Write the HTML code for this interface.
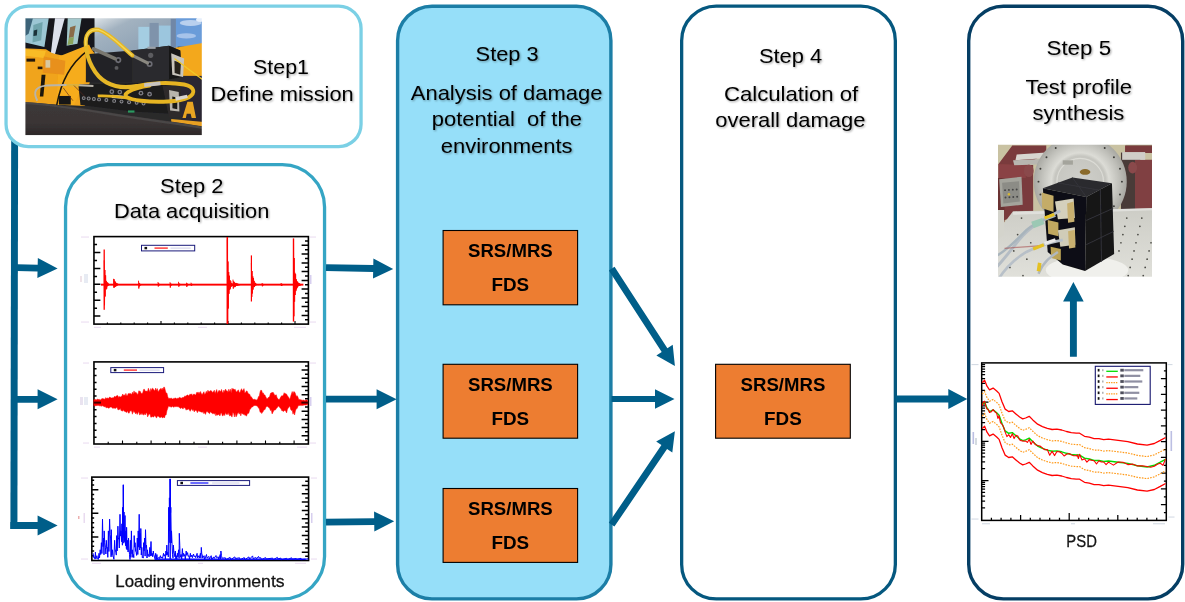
<!DOCTYPE html><html><head><meta charset="utf-8"><title>Mission synthesis process</title>
<style>html,body{margin:0;padding:0;background:#fff;}body{width:1185px;height:602px;overflow:hidden;}svg{display:block;}
text{font-family:"Liberation Sans",sans-serif;fill:#000;}
.t{filter:url(#ts);} .c{fill:#141414;stroke:#141414;stroke-width:0.28px;filter:url(#np);} .b{filter:url(#np);}
</style></head><body>
<svg width="1185" height="602" viewBox="0 0 1185 602">
<defs><filter id="ts" x="-5%" y="-20%" width="110%" height="150%"><feGaussianBlur in="SourceAlpha" stdDeviation="0.9" result="b"/><feOffset in="b" dx="0.8" dy="0.9" result="o"/><feComponentTransfer in="o" result="s"><feFuncA type="linear" slope="0.38"/></feComponentTransfer><feMerge><feMergeNode in="s"/><feMergeNode in="SourceGraphic"/></feMerge></filter><filter id="np" x="-5%" y="-20%" width="110%" height="150%"><feOffset dx="0" dy="0"/></filter></defs>
<rect width="1185" height="602" fill="#fff"/>
<polygon points="11.2,130 18.1,130 17.4,529 10.4,529" fill="#005e89"/>
<rect x="6.05" y="6.05" width="355.00" height="140.50" rx="22.35" ry="22.35" fill="#ffffff" stroke="#7bd0e5" stroke-width="3.3"/>
<rect x="65.55" y="164.65" width="259.00" height="434.30" rx="42.35" ry="42.35" fill="#ffffff" stroke="#35a5c4" stroke-width="3.3"/>
<rect x="397.60" y="6.20" width="213.30" height="592.70" rx="34.40" ry="34.40" fill="#96dff9" stroke="#1c7ea6" stroke-width="3.4"/>
<rect x="681.65" y="6.15" width="213.70" height="592.80" rx="34.55" ry="34.55" fill="#ffffff" stroke="#05587f" stroke-width="3.3"/>
<rect x="968.70" y="6.20" width="214.00" height="592.70" rx="34.70" ry="34.70" fill="#ffffff" stroke="#053e64" stroke-width="3.4"/>
<polygon fill="#005e89" points="16.92,271.00 37.52,271.51 37.36,278.10 57.60,268.60 37.85,258.11 37.69,264.71 17.08,264.20"/>
<polygon fill="#005e89" points="17.00,402.70 37.60,402.70 37.60,409.30 57.60,399.30 37.60,389.30 37.60,395.90 17.00,395.90"/>
<polygon fill="#005e89" points="10.40,528.90 37.60,528.90 37.60,535.50 57.60,525.50 37.60,515.50 37.60,522.10 10.40,522.10"/>
<polygon fill="#005e89" points="325.93,271.00 373.14,271.91 373.01,278.51 393.20,268.90 373.40,258.52 373.27,265.11 326.07,264.20"/>
<polygon fill="#005e89" points="326.00,402.60 376.60,402.60 376.60,409.20 396.60,399.20 376.60,389.20 376.60,395.80 326.00,395.80"/>
<polygon fill="#005e89" points="326.04,525.60 374.25,524.96 374.33,531.56 394.20,521.30 374.07,511.56 374.16,518.16 325.96,518.80"/>
<polygon fill="#005e89" points="608.85,270.55 661.70,351.92 656.37,355.38 674.90,366.00 672.73,344.76 667.40,348.21 614.55,266.85"/>
<polygon fill="#005e89" points="611.50,402.10 655.00,402.10 655.00,408.75 674.50,399.00 655.00,389.25 655.00,395.90 611.50,395.90"/>
<polygon fill="#005e89" points="614.41,526.61 667.06,448.94 672.31,452.50 674.90,431.30 656.17,441.56 661.43,445.12 608.79,522.79"/>
<polygon fill="#005e89" points="896.00,402.40 948.30,402.40 948.30,409.10 967.30,399.00 948.30,388.90 948.30,395.60 896.00,395.60"/>
<polygon fill="#005e89" points="1076.85,356.80 1076.85,301.60 1083.70,301.60 1073.40,282.00 1063.10,301.60 1069.95,301.60 1069.95,356.80"/>
<rect x="443.1" y="230.5" width="134.5" height="74.30000000000001" fill="#ed7d31" stroke="#000" stroke-width="1.1"/><text class="b" x="468.04" y="257.00" font-size="18.3" font-weight="bold" textLength="84.68" lengthAdjust="spacingAndGlyphs">SRS/MRS</text><text class="b" x="491.44" y="291.20" font-size="18.3" font-weight="bold" textLength="37.68" lengthAdjust="spacingAndGlyphs">FDS</text>
<rect x="443.1" y="364.3" width="134.5" height="73.89999999999998" fill="#ed7d31" stroke="#000" stroke-width="1.1"/><text class="b" x="468.04" y="390.80" font-size="18.3" font-weight="bold" textLength="84.68" lengthAdjust="spacingAndGlyphs">SRS/MRS</text><text class="b" x="491.44" y="425.00" font-size="18.3" font-weight="bold" textLength="37.68" lengthAdjust="spacingAndGlyphs">FDS</text>
<rect x="443.1" y="488.5" width="134.5" height="73.89999999999998" fill="#ed7d31" stroke="#000" stroke-width="1.1"/><text class="b" x="468.04" y="515.00" font-size="18.3" font-weight="bold" textLength="84.68" lengthAdjust="spacingAndGlyphs">SRS/MRS</text><text class="b" x="491.44" y="549.20" font-size="18.3" font-weight="bold" textLength="37.68" lengthAdjust="spacingAndGlyphs">FDS</text>
<rect x="715.6" y="364.3" width="134.69999999999993" height="73.89999999999998" fill="#ed7d31" stroke="#000" stroke-width="1.1"/><text class="b" x="740.64" y="390.80" font-size="18.3" font-weight="bold" textLength="84.68" lengthAdjust="spacingAndGlyphs">SRS/MRS</text><text class="b" x="764.04" y="425.00" font-size="18.3" font-weight="bold" textLength="37.68" lengthAdjust="spacingAndGlyphs">FDS</text>
<defs><clipPath id="cp1"><rect x="25.4" y="18.2" width="176.4" height="117.1"/></clipPath><filter id="bl1" x="-5%" y="-5%" width="110%" height="110%"><feGaussianBlur stdDeviation="2.4"/></filter><linearGradient id="gl1" x1="0" y1="0" x2="1" y2="1"><stop offset="0" stop-color="#eef1f2"/><stop offset="0.3" stop-color="#a2b2c0"/><stop offset="1" stop-color="#8096ac"/></linearGradient><linearGradient id="gb1" x1="0" y1="0" x2="0" y2="1"><stop offset="0" stop-color="#3c3838"/><stop offset="0.5" stop-color="#3a3535"/><stop offset="1" stop-color="#241f20"/></linearGradient></defs>
<g clip-path="url(#cp1)"><g transform="translate(20,10) scale(0.21598)"><g filter="url(#bl1)">
<rect x="0" y="0" width="880" height="620" fill="#2a2a2c"/>
<rect x="330" y="20" width="400" height="200" fill="url(#gl1)"/>
<rect x="548" y="78" width="52" height="115" fill="#a4cde2"/>
<rect x="642" y="72" width="56" height="110" fill="#9cc6de"/>
<rect x="600" y="60" width="42" height="140" fill="#7f93ab"/>
<rect x="698" y="40" width="24" height="140" fill="#6f87a7"/>
<rect x="722" y="20" width="140" height="150" fill="#6b9cd9"/>
<ellipse cx="790" cy="60" rx="50" ry="14" fill="#b9d0ee"/><ellipse cx="770" cy="120" rx="45" ry="12" fill="#a6c3ea"/><ellipse cx="835" cy="45" rx="20" ry="10" fill="#e4eefb"/>
<rect x="0" y="20" width="345" height="190" fill="#14181c"/>
<polygon points="24,38 133,38 113,171 24,151" fill="#9cc6d4"/>
<polygon points="24,38 60,38 40,110 24,120" fill="#3c6478"/>
<polygon points="62,70 105,55 98,140 58,150" fill="#6fa4ac"/>
<polygon points="64,95 80,90 78,118 62,120" fill="#1c3038"/>
<polygon points="162,38 207,38 162,205 143,200" fill="#dde1ec"/>
<polygon points="221,38 285,38 266,156 216,166" fill="#a4c8cc"/>
<polygon points="232,80 258,72 248,125 226,130" fill="#8a6c48"/>
<polygon points="226,130 250,125 245,158 220,162" fill="#8aa45c"/>
<polygon points="0,176 120,182 150,200 200,212 260,188 320,165 345,200 330,300 300,445 0,430" fill="#f0a41a"/>
<polygon points="25,182 120,190 110,222 25,212" fill="#f8bc28"/>
<polygon points="180,215 320,160 335,200 300,330 250,440 170,440" fill="#f6ac1c"/>
<polygon points="110,215 210,235 205,300 105,290" fill="#e8901a"/>
<rect x="30" y="225" width="40" height="14" fill="#20180c"/><rect x="82" y="262" width="22" height="12" fill="#20180c"/>
<rect x="118" y="232" width="22" height="35" fill="#d8c8a0"/>
<polygon points="100,300 118,300 108,400 92,400" fill="#1a1408"/>
<path d="M170,440 C190,330 230,250 310,190" stroke="#1a1408" stroke-width="7" fill="none"/>
<polygon points="700,178 862,150 862,330 745,310 735,200" fill="#f3a81d"/>
<rect x="745" y="305" width="120" height="225" fill="#2a2630"/>
<polygon points="775,425 800,425 815,500 795,500 790,480 772,480 768,500 752,500" fill="#e8a422"/>
<polygon points="700,505 862,520 862,545 700,525" fill="#e8a020"/>
<polygon points="305,205 520,188 690,165 742,188 748,300 690,322 520,335 305,335" fill="#242426"/>
<polygon points="520,188 690,165 690,322 520,335" fill="#2c2c2e"/>
<polygon points="690,165 742,188 748,310 690,322" fill="#181818"/>
<polygon points="700,200 760,225 755,310 705,300" fill="#c8c4bc"/>
<polygon points="715,235 745,245 742,300 716,292" fill="#26221e"/>
<polygon points="270,345 700,335 705,480 520,470 280,440" fill="#1c1c1e"/>
<polygon points="660,350 740,355 745,500 690,495" fill="#2e2c2c"/>
<polygon points="690,370 735,380 738,470 695,465" fill="#b8b4ac"/>
<polygon points="705,400 728,405 728,460 706,455" fill="#1c1a18"/>
<circle cx="295" cy="408" r="9" fill="#8c8c90"/><circle cx="295" cy="408" r="4.5" fill="#2a2a2c"/>
<circle cx="318" cy="410" r="9" fill="#8c8c90"/><circle cx="318" cy="410" r="4.5" fill="#2a2a2c"/>
<circle cx="342" cy="412" r="9" fill="#8c8c90"/><circle cx="342" cy="412" r="4.5" fill="#2a2a2c"/>
<circle cx="366" cy="414" r="9" fill="#8c8c90"/><circle cx="366" cy="414" r="4.5" fill="#2a2a2c"/>
<circle cx="400" cy="417" r="9" fill="#8c8c90"/><circle cx="400" cy="417" r="4.5" fill="#2a2a2c"/>
<circle cx="436" cy="421" r="9" fill="#8c8c90"/><circle cx="436" cy="421" r="4.5" fill="#2a2a2c"/>
<circle cx="470" cy="424" r="9" fill="#8c8c90"/><circle cx="470" cy="424" r="4.5" fill="#2a2a2c"/>
<circle cx="505" cy="427" r="9" fill="#8c8c90"/><circle cx="505" cy="427" r="4.5" fill="#2a2a2c"/>
<circle cx="540" cy="430" r="9" fill="#8c8c90"/><circle cx="540" cy="430" r="4.5" fill="#2a2a2c"/>
<circle cx="572" cy="433" r="9" fill="#8c8c90"/><circle cx="572" cy="433" r="4.5" fill="#2a2a2c"/>
<circle cx="425" cy="378" r="11" fill="#7c7c84"/><circle cx="425" cy="378" r="5" fill="#222"/>
<circle cx="462" cy="380" r="11" fill="#7c7c84"/><circle cx="462" cy="380" r="5" fill="#222"/>
<circle cx="560" cy="385" r="11" fill="#7c7c84"/><circle cx="560" cy="385" r="5" fill="#222"/>
<circle cx="600" cy="390" r="11" fill="#7c7c84"/><circle cx="600" cy="390" r="5" fill="#222"/>
<circle cx="455" cy="232" r="14" fill="#6c6c74"/><circle cx="455" cy="232" r="6" fill="#1a1a1a"/>
<circle cx="600" cy="250" r="14" fill="#6c6c74"/><circle cx="600" cy="250" r="6" fill="#1a1a1a"/>
<circle cx="447" cy="268" r="9" fill="#5c5c60"/><circle cx="605" cy="210" r="12" fill="#5c5c60"/>
<rect x="590" y="170" width="38" height="10" fill="#9aa0a8"/>
<path d="M0,425 C150,430 300,455 450,480 C600,505 750,520 880,545 L880,620 L0,620 Z" fill="url(#gb1)"/>
<path d="M0,430 C150,436 300,462 450,487 C600,512 750,528 880,552" stroke="#4a4646" stroke-width="10" fill="none"/>
<rect x="0" y="580" width="880" height="40" fill="#ffffff"/>
<rect x="180" y="398" width="55" height="40" fill="#121212"/>
<rect x="500" y="465" width="30" height="10" fill="#2a9a60"/>
<path d="M340,180 L440,225" stroke="#7a7870" stroke-width="16" stroke-linecap="round" fill="none"/>
<path d="M520,210 L590,245" stroke="#8a8880" stroke-width="15" stroke-linecap="round" fill="none"/>
<path d="M520,210 C470,170 420,110 365,92 C320,85 300,115 305,165 C310,230 345,305 400,335 C440,357 490,362 540,352" stroke="#e6b726" stroke-width="19" fill="none" stroke-linecap="round"/>
<path d="M520,210 C470,170 420,110 365,92 C320,85 300,115 305,165" stroke="#f4d858" stroke-width="7" fill="none"/>
<path d="M540,352 C600,338 690,332 760,345 C810,356 815,385 780,405 C740,425 640,430 560,420 C500,412 470,400 500,380 C520,368 560,355 600,350" stroke="#e6b422" stroke-width="18" fill="none" stroke-linecap="round"/>
<path d="M575,348 L650,340" stroke="#c8c4c0" stroke-width="17" fill="none"/>
<path d="M425,400 L480,404" stroke="#d0ccc8" stroke-width="15" fill="none"/>
<path d="M720,412 L775,400" stroke="#d8d4d0" stroke-width="16" fill="none"/>
<path d="M360,398 C400,396 450,400 500,408" stroke="#e6b422" stroke-width="13" fill="none"/>
<path d="M80,420 C60,380 70,355 120,350 C200,345 280,348 340,352" stroke="#b8b4aa" stroke-width="9" fill="none"/>
<path d="M215,348 L275,348" stroke="#e0b030" stroke-width="9" fill="none"/>
<path d="M200,360 L245,420 M250,350 L300,400" stroke="#5a2a1a" stroke-width="3" fill="none"/>
<path d="M715,225 C760,260 800,290 850,325" stroke="#f0c828" stroke-width="6" fill="none"/>
</g></g></g>
<rect x="93.95" y="236.6" width="214.45" height="87.50000000000003" fill="#fff" stroke="#000" stroke-width="1.6"/>
<path d="M93.95,244.6h3.1M93.95,252.5h6.4M93.95,260.5h3.1M93.95,268.4h6.4M93.95,276.4h3.1M93.95,284.3h6.4M93.95,292.3h3.1M93.95,300.2h6.4M93.95,308.2h3.1M93.95,316.1h6.4M308.4,241.0h-3.4M308.4,245.3h-6.8M308.4,249.7h-3.4M308.4,254.1h-6.8M308.4,258.5h-3.4M308.4,262.9h-6.8M308.4,267.2h-3.4M308.4,271.6h-6.8M308.4,276.0h-3.4M308.4,280.4h-6.8M308.4,284.7h-3.4M308.4,289.1h-6.8M308.4,293.5h-3.4M308.4,297.9h-6.8M308.4,302.2h-3.4M308.4,306.6h-6.8M308.4,311.0h-3.4M308.4,315.4h-6.8M308.4,319.7h-3.4" stroke="#000" stroke-width="1.5" fill="none"/>
<path d="M107.4,324.1v-1.6M120.8,324.1v-1.6M134.2,324.1v-1.6M147.6,324.1v-1.6M161.0,324.1v-3.0M174.4,324.1v-1.6M187.8,324.1v-1.6M201.2,324.1v-1.6M214.6,324.1v-1.6M228.0,324.1v-3.0M241.4,324.1v-1.6M254.8,324.1v-1.6M268.2,324.1v-1.6M281.6,324.1v-1.6M295.0,324.1v-3.0" stroke="#000" stroke-width="1.1" fill="none"/>
<rect x="100.95" y="283.70000000000005" width="202.45" height="1.9" fill="#ff0000"/>
<polyline fill="none" stroke="#ff0000" stroke-width="0.9"  points="104.2,260.3 104.5,305.3 104.9,270.0 105.2,296.5 105.6,275.3 106.0,289.5 106.3,280.9 106.7,288.7 107.0,282.2 107.4,286.3 107.7,282.7 108.1,285.7 108.4,283.6 108.8,285.2 109.1,284.1 109.5,284.9 109.8,284.3 110.2,284.8 110.5,284.5 110.9,284.7 111.2,284.5 111.6,284.6 111.9,284.5 112.3,284.6"/>
<polyline fill="none" stroke="#ff0000" stroke-width="0.9"  points="113.5,278.8 113.8,287.7 114.2,279.3 114.5,287.4 114.9,281.1 115.2,287.0 115.6,282.1 116.0,286.3 116.3,283.1 116.7,285.7 117.0,283.5 117.4,285.4 117.7,283.7 118.1,285.0 118.4,284.1 118.8,284.9"/>
<polyline fill="none" stroke="#ff0000" stroke-width="0.9"  points="138.5,280.7 138.8,288.5 139.2,282.9 139.5,286.4 139.9,283.8 140.2,285.5 140.6,284.2 140.9,285.1 141.3,284.4 141.6,284.9"/>
<polyline fill="none" stroke="#ff0000" stroke-width="0.9"  points="158.0,282.0 158.3,286.5 158.7,283.2 159.0,285.6 159.4,284.0 159.7,284.9"/>
<polyline fill="none" stroke="#ff0000" stroke-width="0.9"  points="170.0,282.2 170.3,287.6 170.7,283.4 171.0,285.8 171.4,284.1 171.7,285.1"/>
<polyline fill="none" stroke="#ff0000" stroke-width="0.9"  points="178.5,281.8 178.8,286.7 179.2,283.5 179.5,285.4 179.9,283.9 180.2,285.2"/>
<polyline fill="none" stroke="#ff0000" stroke-width="0.9"  points="186.5,282.7 186.8,286.9 187.2,283.5 187.5,285.4 187.9,284.1 188.2,285.2"/>
<polyline fill="none" stroke="#ff0000" stroke-width="0.9"  points="191.0,282.7 191.3,285.8 191.7,283.8 192.0,285.2 192.4,284.2 192.7,285.0"/>
<polyline fill="none" stroke="#ff0000" stroke-width="0.9"  points="227.3,239.4 227.7,323.8 228.0,261.5 228.3,308.5 228.7,272.0 229.0,293.8 229.4,275.7 229.7,290.0 230.1,280.2 230.4,288.7 230.8,281.3 231.1,286.7 231.5,283.1 231.8,286.5 232.2,283.6 232.5,285.8 232.9,283.8 233.2,285.1 233.6,284.2 233.9,285.0 234.3,284.3 234.6,284.8 235.0,284.4 235.3,284.7 235.7,284.5 236.0,284.7 236.4,284.5 236.7,284.7 237.1,284.6 237.4,284.6"/>
<polyline fill="none" stroke="#ff0000" stroke-width="0.9"  points="233.0,279.6 233.3,288.6 233.7,281.4 234.0,287.0 234.4,282.2 234.7,287.2 235.1,283.1 235.4,286.7 235.8,282.9 236.1,285.8 236.5,283.3 236.8,285.8 237.2,283.5 237.5,285.5 237.9,283.7 238.2,285.5 238.6,284.1 238.9,285.1 239.3,284.1 239.6,285.2 240.0,284.3 240.3,285.0 240.7,284.3 241.0,284.9"/>
<polyline fill="none" stroke="#ff0000" stroke-width="0.9"  points="251.4,263.0 251.8,296.9 252.1,271.0 252.4,293.5 252.8,276.4 253.1,289.6 253.5,278.1 253.8,287.2 254.2,280.9 254.5,287.0 254.9,282.6 255.2,285.7 255.6,283.0 255.9,285.3 256.3,283.9 256.6,285.1 257.0,284.0 257.3,284.9 257.7,284.3 258.0,284.8 258.4,284.3 258.7,284.7 259.1,284.4 259.4,284.7"/>
<polyline fill="none" stroke="#ff0000" stroke-width="0.9"  points="262.0,283.1 262.4,286.3 262.7,283.7 263.1,285.4 263.4,284.3 263.8,284.9"/>
<polyline fill="none" stroke="#ff0000" stroke-width="0.9"  points="281.0,283.0 281.4,286.0 281.7,283.7 282.1,285.5 282.4,284.3 282.8,285.0"/>
<polyline fill="none" stroke="#ff0000" stroke-width="0.9"  points="293.5,242.1 293.9,316.3 294.2,258.0 294.6,301.7 294.9,272.8 295.2,295.0 295.6,274.2 295.9,291.1 296.3,279.3 296.6,289.0 297.0,281.2 297.3,287.3 297.7,281.9 298.0,286.1 298.4,283.5 298.7,286.0 299.1,283.6 299.4,285.5 299.8,284.1 300.1,285.1 300.5,284.2 300.8,284.8 301.2,284.4 301.5,284.8"/>
<polyline fill="none" stroke="#ff0000" stroke-width="0.9"  points="296.0,279.4 296.4,289.4 296.7,281.6 297.1,287.7 297.4,282.5 297.8,286.5 298.1,282.8 298.4,286.1 298.8,283.2 299.1,285.5 299.5,283.6 299.8,285.5 300.2,283.9 300.5,285.3 300.9,284.1 301.2,285.0"/>
<rect x="103.55" y="249.5" width="1.3" height="60.30000000000001" fill="#ff0000"/>
<rect x="226.55" y="237" width="1.5" height="87" fill="#ff0000"/>
<rect x="250.8" y="255.4" width="1.2" height="46.099999999999994" fill="#ff0000"/>
<rect x="292.8" y="238.4" width="1.4" height="83.20000000000002" fill="#ff0000"/>
<rect x="141.5" y="245.3" width="53.19999999999999" height="5.599999999999994" fill="#fff" stroke="#1a1a7a" stroke-width="1"/><rect x="144.5" y="246.90000000000003" width="2.6" height="2.4" fill="#111"/><rect x="154.5" y="247.40000000000003" width="13.3" height="1.4" fill="#ff3030"/><rect x="170.5" y="247.60000000000002" width="20.2" height="1" fill="#b9b9dd" opacity="0.7"/>
<rect x="81" y="236.5" width="8" height="1.1" fill="#c9a6d9" opacity="0.38"/>
<rect x="81" y="321.5" width="8" height="1.1" fill="#c9a6d9" opacity="0.38"/>
<rect x="94" y="326.8" width="7" height="1.1" fill="#c9a6d9" opacity="0.38"/>
<rect x="198" y="326.8" width="9" height="1.1" fill="#c9a6d9" opacity="0.38"/>
<rect x="294" y="326.8" width="12" height="1.1" fill="#c9a6d9" opacity="0.38"/>
<rect x="310" y="236.5" width="6" height="1.1" fill="#c9a6d9" opacity="0.38"/>
<rect x="310" y="321.5" width="6" height="1.1" fill="#c9a6d9" opacity="0.38"/>
<rect x="80" y="276" width="2" height="6" fill="#d7b9c9" opacity=".4"/><rect x="84" y="274" width="4" height="9" fill="#b9c6dd" opacity=".35"/><rect x="310" y="275" width="1.5" height="9" fill="#9a86d8" opacity=".4"/>
<rect x="93.95" y="361.9" width="214.45" height="82.10000000000002" fill="#fff" stroke="#000" stroke-width="1.6"/>
<path d="M93.95,368.7h2.6M93.95,375.6h2.6M93.95,382.4h2.6M93.95,389.3h2.6M93.95,396.1h2.6M93.95,402.9h2.6M93.95,409.8h2.6M93.95,416.6h2.6M93.95,423.5h2.6M93.95,430.3h2.6M93.95,437.2h2.6M308.4,366.0h-3.4M308.4,370.1h-6.8M308.4,374.2h-3.4M308.4,378.3h-6.8M308.4,382.4h-3.4M308.4,386.5h-6.8M308.4,390.6h-3.4M308.4,394.7h-6.8M308.4,398.8h-3.4M308.4,402.9h-6.8M308.4,407.1h-3.4M308.4,411.2h-6.8M308.4,415.3h-3.4M308.4,419.4h-6.8M308.4,423.5h-3.4M308.4,427.6h-6.8M308.4,431.7h-3.4M308.4,435.8h-6.8M308.4,439.9h-3.4" stroke="#000" stroke-width="1.5" fill="none"/>
<path d="M108.2,444.0v-2.2M122.5,444.0v-3.6M136.8,444.0v-2.2M151.1,444.0v-3.6M165.4,444.0v-2.2M179.7,444.0v-3.6M194.0,444.0v-2.2M208.3,444.0v-3.6M222.6,444.0v-2.2M236.9,444.0v-3.6M251.2,444.0v-2.2M265.5,444.0v-3.6M279.8,444.0v-2.2M294.1,444.0v-3.6" stroke="#000" stroke-width="1.1" fill="none"/>
<polygon fill="#ff0000" stroke="#ff0000" stroke-width="0.5" stroke-linejoin="round" points="93.8,399.7 94.6,399.5 95.4,399.5 96.2,400.1 97.0,399.2 97.8,399.2 98.6,399.5 99.4,399.4 100.2,399.9 101.0,399.5 101.8,398.8 102.6,398.6 103.4,398.7 104.2,399.3 105.0,398.9 105.8,397.6 106.6,398.5 107.4,398.0 108.3,398.4 109.1,397.5 109.9,397.0 110.7,397.8 111.5,398.1 112.3,397.7 113.1,398.1 113.9,397.3 114.7,396.2 115.5,397.1 116.3,396.1 117.1,395.4 117.9,395.8 118.7,397.4 119.5,396.4 120.3,397.1 121.1,396.5 121.9,396.3 122.7,394.0 123.5,395.5 124.3,394.7 125.1,395.8 125.9,393.4 126.7,395.7 127.5,395.4 128.3,393.4 129.1,394.1 129.9,393.2 130.7,393.8 131.6,394.6 132.4,392.2 133.2,394.2 134.0,390.9 134.8,393.0 135.6,392.2 136.4,392.7 137.2,394.2 138.0,394.2 138.8,390.8 139.6,391.2 140.4,391.5 141.2,393.6 142.0,393.4 142.8,392.7 143.6,389.4 144.4,389.3 145.2,391.3 146.0,391.1 146.8,391.3 147.6,391.3 148.4,388.2 149.2,390.3 150.0,392.2 150.8,388.5 151.6,390.5 152.4,388.2 153.2,388.7 154.0,390.3 154.8,390.7 155.7,388.1 156.5,390.6 157.3,388.6 158.1,392.0 158.9,390.7 159.7,389.6 160.5,388.5 161.3,390.1 162.1,388.0 162.9,390.1 163.7,387.2 164.5,387.2 165.3,390.3 166.1,393.2 166.9,393.0 167.7,396.6 168.5,398.4 169.3,398.3 170.1,398.4 170.9,398.3 171.7,398.3 172.5,399.1 173.3,398.4 174.1,398.7 174.9,398.0 175.7,398.1 176.5,398.8 177.3,398.3 178.1,398.4 179.0,397.8 179.8,397.3 180.6,397.9 181.4,398.2 182.2,397.5 183.0,397.7 183.8,396.9 184.6,396.2 185.4,396.2 186.2,395.9 187.0,395.1 187.8,394.9 188.6,395.9 189.4,395.1 190.2,393.9 191.0,394.8 191.8,393.8 192.6,396.0 193.4,394.3 194.2,394.1 195.0,394.8 195.8,395.1 196.6,392.5 197.4,392.3 198.2,393.4 199.0,391.9 199.8,393.8 200.6,391.5 201.4,394.0 202.2,394.5 203.1,393.1 203.9,391.7 204.7,394.6 205.5,393.5 206.3,391.3 207.1,393.3 207.9,390.2 208.7,391.6 209.5,391.4 210.3,390.8 211.1,390.6 211.9,391.5 212.7,392.4 213.5,391.5 214.3,390.2 215.1,393.4 215.9,391.5 216.7,389.5 217.5,393.5 218.3,391.5 219.1,390.2 219.9,391.2 220.7,391.6 221.5,389.4 222.3,392.0 223.1,393.0 223.9,390.1 224.7,392.0 225.5,389.0 226.4,391.0 227.2,390.8 228.0,392.4 228.8,389.2 229.6,392.0 230.4,389.2 231.2,392.9 232.0,388.2 232.8,389.5 233.6,388.8 234.4,389.7 235.2,389.3 236.0,391.4 236.8,392.1 237.6,390.7 238.4,389.8 239.2,392.4 240.0,392.6 240.8,390.2 241.6,388.7 242.4,391.0 243.2,390.2 244.0,388.6 244.8,392.9 245.6,392.5 246.4,390.9 247.2,391.2 248.0,393.2 248.8,393.9 249.7,394.2 250.5,396.4 251.3,396.7 252.1,398.1 252.9,399.3 253.7,399.5 254.5,399.3 255.3,399.4 256.1,400.2 256.9,399.8 257.7,399.0 258.5,396.6 259.3,396.2 260.1,391.8 260.9,390.1 261.7,390.5 262.5,393.3 263.3,392.9 264.1,394.9 264.9,394.9 265.7,396.7 266.5,398.3 267.3,399.0 268.1,397.5 268.9,397.6 269.7,396.2 270.5,393.3 271.3,392.7 272.1,392.9 272.9,392.0 273.8,393.4 274.6,395.2 275.4,395.3 276.2,394.7 277.0,397.4 277.8,398.6 278.6,399.6 279.4,399.5 280.2,398.1 281.0,396.4 281.8,395.8 282.6,396.0 283.4,394.9 284.2,392.7 285.0,394.0 285.8,393.6 286.6,394.2 287.4,395.7 288.2,396.8 289.0,398.0 289.8,399.6 290.6,396.5 291.4,394.1 292.2,391.5 293.0,394.0 293.8,391.5 294.6,392.0 295.4,393.6 296.2,396.4 297.1,395.6 297.9,397.1 298.7,399.5 299.5,399.4 300.3,399.7 301.1,399.8 301.9,400.2 302.7,400.2 303.5,400.1 304.3,400.4 305.1,400.4 305.9,399.9 306.7,400.0 307.5,400.6 307.5,405.0 306.7,404.8 305.9,405.1 305.1,405.1 304.3,405.0 303.5,405.2 302.7,405.3 301.9,405.8 301.1,405.1 300.3,405.6 299.5,405.4 298.7,405.5 297.9,406.6 297.1,408.6 296.2,408.8 295.4,411.0 294.6,415.0 293.8,412.0 293.0,414.2 292.2,410.1 291.4,410.4 290.6,409.2 289.8,405.7 289.0,407.2 288.2,408.0 287.4,409.4 286.6,412.9 285.8,411.0 285.0,410.5 284.2,410.5 283.4,411.6 282.6,410.8 281.8,410.7 281.0,408.8 280.2,408.1 279.4,406.9 278.6,405.9 277.8,406.8 277.0,407.9 276.2,408.6 275.4,410.0 274.6,410.0 273.8,410.4 272.9,412.4 272.1,413.9 271.3,409.8 270.5,410.6 269.7,408.5 268.9,407.5 268.1,407.1 267.3,406.2 266.5,406.5 265.7,407.8 264.9,409.8 264.1,409.5 263.3,411.3 262.5,412.3 261.7,413.5 260.9,412.1 260.1,412.3 259.3,408.7 258.5,408.1 257.7,406.3 256.9,406.2 256.1,405.4 255.3,405.5 254.5,405.5 253.7,405.7 252.9,406.7 252.1,407.0 251.3,407.4 250.5,409.1 249.7,409.8 248.8,413.2 248.0,413.2 247.2,414.3 246.4,416.2 245.6,415.0 244.8,415.3 244.0,413.8 243.2,414.5 242.4,413.7 241.6,412.8 240.8,415.9 240.0,412.5 239.2,414.2 238.4,412.6 237.6,413.2 236.8,415.5 236.0,416.9 235.2,413.0 234.4,417.0 233.6,413.3 232.8,412.5 232.0,417.1 231.2,415.7 230.4,415.3 229.6,416.0 228.8,412.4 228.0,414.8 227.2,413.6 226.4,414.6 225.5,412.6 224.7,415.6 223.9,413.9 223.1,415.8 222.3,415.7 221.5,412.7 220.7,413.6 219.9,416.0 219.1,414.6 218.3,414.4 217.5,415.3 216.7,414.2 215.9,415.8 215.1,412.8 214.3,414.3 213.5,413.2 212.7,413.8 211.9,412.9 211.1,412.6 210.3,411.7 209.5,413.7 208.7,413.0 207.9,412.1 207.1,411.5 206.3,411.7 205.5,414.4 204.7,412.6 203.9,413.7 203.1,411.5 202.2,412.6 201.4,411.9 200.6,411.9 199.8,411.1 199.0,411.6 198.2,410.6 197.4,412.7 196.6,410.7 195.8,410.3 195.0,410.6 194.2,411.9 193.4,409.4 192.6,410.6 191.8,408.8 191.0,409.7 190.2,411.3 189.4,410.0 188.6,408.7 187.8,409.8 187.0,409.1 186.2,410.2 185.4,408.5 184.6,407.8 183.8,407.5 183.0,409.1 182.2,408.0 181.4,407.8 180.6,408.6 179.8,407.8 179.0,407.3 178.1,406.5 177.3,406.7 176.5,406.6 175.7,406.7 174.9,406.3 174.1,407.2 173.3,407.1 172.5,406.3 171.7,407.1 170.9,407.1 170.1,406.5 169.3,406.6 168.5,406.0 167.7,408.6 166.9,410.8 166.1,415.0 165.3,414.9 164.5,417.9 163.7,417.0 162.9,417.8 162.1,417.7 161.3,416.7 160.5,417.5 159.7,417.6 158.9,416.7 158.1,416.0 157.3,416.2 156.5,418.1 155.7,416.7 154.8,415.6 154.0,416.7 153.2,417.0 152.4,416.6 151.6,417.0 150.8,417.2 150.0,413.9 149.2,414.1 148.4,415.3 147.6,416.9 146.8,412.7 146.0,413.2 145.2,415.0 144.4,413.6 143.6,415.2 142.8,413.2 142.0,414.8 141.2,413.0 140.4,414.4 139.6,414.9 138.8,411.4 138.0,412.9 137.2,414.5 136.4,412.4 135.6,413.9 134.8,411.5 134.0,412.6 133.2,410.6 132.4,414.2 131.6,410.8 130.7,410.8 129.9,411.2 129.1,413.2 128.3,412.9 127.5,410.7 126.7,412.5 125.9,412.0 125.1,411.4 124.3,411.2 123.5,409.8 122.7,411.3 121.9,410.5 121.1,410.8 120.3,408.2 119.5,409.4 118.7,409.7 117.9,409.7 117.1,407.6 116.3,407.6 115.5,408.4 114.7,408.3 113.9,407.8 113.1,408.4 112.3,408.1 111.5,407.0 110.7,407.0 109.9,407.2 109.1,408.2 108.3,408.0 107.4,407.4 106.6,407.7 105.8,407.4 105.0,406.3 104.2,407.0 103.4,405.9 102.6,405.8 101.8,405.7 101.0,406.4 100.2,405.5 99.4,405.8 98.6,405.4 97.8,405.3 97.0,405.7 96.2,405.5 95.4,405.8 94.6,405.8 93.8,405.6"/>
<rect x="110.8" y="367.6" width="52.8" height="5.0" fill="#fff" stroke="#1a1a7a" stroke-width="1"/><rect x="113.8" y="368.90000000000003" width="2.6" height="2.4" fill="#111"/><rect x="123.8" y="369.40000000000003" width="13.2" height="1.4" fill="#ff3030"/><rect x="139.6" y="369.6" width="20.1" height="1" fill="#b9b9dd" opacity="0.7"/>
<rect x="93.95" y="401.6" width="7" height="2" fill="#400"/>
<rect x="301.4" y="401.6" width="7" height="2" fill="#400"/>
<rect x="83" y="362.5" width="6" height="1.1" fill="#c9a6d9" opacity="0.38"/>
<rect x="83" y="442.5" width="6" height="1.1" fill="#c9a6d9" opacity="0.38"/>
<rect x="94" y="446.6" width="6" height="1.1" fill="#c9a6d9" opacity="0.38"/>
<rect x="198" y="446.6" width="9" height="1.1" fill="#c9a6d9" opacity="0.38"/>
<rect x="297" y="446.6" width="10" height="1.1" fill="#c9a6d9" opacity="0.38"/>
<rect x="310" y="362.5" width="6" height="1.1" fill="#c9a6d9" opacity="0.38"/>
<rect x="310" y="442.5" width="6" height="1.1" fill="#c9a6d9" opacity="0.38"/>
<rect x="80" y="397" width="3" height="8" fill="#c9b9d9" opacity=".4"/><rect x="84" y="397" width="4" height="8" fill="#b9c6dd" opacity=".35"/><rect x="310" y="397" width="1.5" height="9" fill="#9a86d8" opacity=".4"/>
<rect x="91.85" y="477.1" width="216.75000000000003" height="83.39999999999998" fill="#fff" stroke="#000" stroke-width="1.6"/>
<path d="M91.85,480.3h2.3M91.85,485.0h2.3M91.85,489.7h6.5M91.85,494.4h2.3M91.85,499.1h2.3M91.85,503.9h2.3M91.85,508.6h2.3M91.85,513.3h6.5M91.85,518.0h2.3M91.85,522.7h2.3M91.85,527.5h2.3M91.85,532.2h2.3M91.85,536.9h6.5M91.85,541.6h2.3M91.85,546.3h2.3M91.85,551.1h2.3M91.85,555.8h2.3" stroke="#000" stroke-width="1.5" fill="none"/>
<path d="M308.6,481.3h-3.4M308.6,485.4h-6.8M308.6,489.6h-3.4M308.6,493.8h-6.8M308.6,498.0h-3.4M308.6,502.1h-6.8M308.6,506.3h-3.4M308.6,510.5h-6.8M308.6,514.6h-3.4M308.6,518.8h-6.8M308.6,523.0h-3.4M308.6,527.1h-6.8M308.6,531.3h-3.4M308.6,535.5h-6.8M308.6,539.6h-3.4M308.6,543.8h-6.8M308.6,548.0h-3.4M308.6,552.2h-6.8M308.6,556.3h-3.4" stroke="#000" stroke-width="1.5" fill="none"/>
<polyline fill="none" stroke="#0000ff" stroke-width="1.0" stroke-linejoin="miter" points="93.1,553.3 93.6,557.5 94.5,556.9 95.0,559.2 95.4,552.2 95.9,558.9 96.9,555.7 97.4,558.5 97.8,558.1 98.3,559.5 99.0,553.3 99.5,557.9 100.2,549.8 100.7,554.5 101.4,542.7 101.9,553.5 102.5,519.1 103.0,546.6 103.5,538.0 104.0,554.8 104.2,530.9 104.7,542.6 105.4,547.4 105.9,554.0 106.3,540.3 106.8,548.3 107.3,547.4 107.8,557.3 108.4,530.9 108.9,551.5 109.6,519.1 110.1,534.4 110.6,538.0 111.1,556.9 111.3,529.7 111.8,555.3 112.5,549.8 113.0,557.0 113.4,556.9 113.9,559.3 114.6,540.3 115.1,549.0 115.8,552.2 116.3,555.1 116.7,535.6 117.2,550.9 117.9,526.2 118.4,539.2 118.8,538.0 119.3,548.0 120.0,514.3 120.5,536.1 121.0,530.9 121.5,541.7 121.9,523.8 122.4,545.2 122.6,507.3 123.1,537.6 123.3,484.8 123.8,543.2 124.0,512.0 124.5,541.6 125.0,515.5 125.5,545.7 125.9,530.9 126.4,548.7 126.6,527.3 127.1,549.9 127.6,540.3 128.1,552.0 128.5,538.0 129.0,549.0 129.5,554.5 130.0,559.6 130.4,540.3 130.9,557.4 131.4,530.9 131.9,553.7 132.3,549.8 132.8,557.3 133.3,554.5 133.8,557.6 134.2,535.6 134.7,547.2 135.1,542.7 135.6,551.5 136.1,552.2 136.6,555.4 137.3,538.0 137.8,554.5 138.2,530.9 138.7,547.2 139.2,514.3 139.7,550.0 140.1,533.3 140.6,548.1 140.8,528.5 141.3,555.0 141.8,547.4 142.3,557.5 142.7,556.9 143.2,558.1 143.6,542.7 144.1,550.8 144.6,538.0 145.1,556.1 145.5,529.7 146.0,547.7 146.5,545.1 147.0,558.0 147.4,549.8 147.9,555.7 148.6,554.5 149.1,556.8 149.8,547.4 150.3,556.1 151.0,541.5 151.5,555.6 152.2,553.3 152.7,556.8 153.3,551.0 153.8,554.7 154.5,556.9 155.0,558.7 155.7,553.3 156.2,559.3 156.9,554.5 157.4,558.9 158.8,557.4 159.3,558.6 160.4,555.7 160.9,558.0 162.1,556.9 162.6,558.3 163.5,553.3 164.0,556.1 164.9,554.5 165.4,559.0 165.9,551.0 166.4,555.2 166.8,545.1 167.3,554.8 167.8,552.2 168.3,556.9 168.7,507.3 169.2,531.0 169.4,497.8 169.9,542.7 170.1,478.9 170.6,512.8 170.8,507.3 171.3,543.0 171.5,530.9 172.0,543.0 172.5,554.5 173.0,557.9 173.4,545.1 173.9,552.1 174.4,553.3 174.9,556.8 175.3,551.0 175.8,558.9 176.3,555.7 176.8,559.3 177.4,553.3 177.9,556.9 178.6,549.8 179.1,558.3 179.3,533.3 179.8,545.7 180.0,553.3 180.5,557.3 181.2,554.5 181.7,559.2 182.4,548.6 182.9,556.6 183.6,553.3 184.1,556.2 184.8,554.5 185.3,559.6 186.2,551.0 186.7,555.3 187.6,552.6 188.1,556.4 189.0,555.7 189.5,559.2 190.4,553.3 190.9,557.0 191.9,555.0 192.4,557.7 193.5,554.0 194.0,556.5 195.2,555.9 195.7,557.7 197.1,553.3 197.6,557.9 198.9,555.7 199.4,558.0 200.4,553.3 200.9,558.0 201.3,547.4 201.8,554.4 202.2,554.5 202.7,558.0 204.1,555.7 204.6,559.7 206.5,554.5 207.0,558.1 208.9,556.4 209.4,559.0 211.2,555.7 211.7,559.5 213.6,556.9 214.1,558.5 216.0,555.5 216.5,557.6 218.3,556.9 218.8,559.7 220.2,554.5 220.7,559.1 220.9,551.0 221.4,555.5 221.6,556.4 222.1,558.2 225.4,557.8 225.9,559.7 230.1,557.4 230.6,559.7 234.9,556.9 235.4,558.5 239.6,557.8 240.1,559.7 244.3,557.6 244.8,559.7 249.0,556.9 249.5,559.2 252.6,555.9 253.1,558.5 256.1,557.6 256.6,558.8 258.5,556.4 259.0,557.9 260.9,557.8 261.4,559.7 265.6,557.6 266.1,559.0 272.7,558.1 273.2,559.7 277.4,557.4 277.9,558.9 280.9,558.1 281.4,559.7 286.8,558.3 287.3,559.7 291.6,557.8 292.1,559.2 296.3,558.5 296.8,559.4 301.0,558.3 301.5,559.7 308.1,558.8 308.6,559.4"/>
<rect x="154.5" y="558.5" width="151.2" height="1.4" fill="#0000ff"/>
<rect x="169.5" y="478.9" width="1.4" height="80.3" fill="#0000ff"/>
<rect x="122.8" y="484.8" width="1.2" height="46.1" fill="#0000ff"/>
<rect x="177.4" y="480.6" width="72.19999999999999" height="4.7999999999999545" fill="#fff" stroke="#1a1a7a" stroke-width="1"/><rect x="180.4" y="481.8" width="2.6" height="2.4" fill="#111"/><rect x="190.4" y="482.3" width="18.0" height="1.4" fill="#3030ff"/><rect x="212.1" y="482.5" width="27.4" height="1" fill="#b9b9dd" opacity="0.7"/>
<rect x="81" y="477.5" width="7" height="1.1" fill="#c9a6d9" opacity="0.38"/>
<rect x="81" y="558.5" width="7" height="1.1" fill="#c9a6d9" opacity="0.38"/>
<rect x="92" y="562.8" width="9" height="1.1" fill="#c9a6d9" opacity="0.38"/>
<rect x="198" y="562.8" width="5" height="1.1" fill="#c9a6d9" opacity="0.38"/>
<rect x="295" y="562.8" width="11" height="1.1" fill="#c9a6d9" opacity="0.38"/>
<rect x="311" y="477.5" width="6" height="1.1" fill="#c9a6d9" opacity="0.38"/>
<rect x="311" y="558.5" width="6" height="1.1" fill="#c9a6d9" opacity="0.38"/>
<rect x="78" y="516" width="1.5" height="3" fill="#d96060" opacity=".5"/><rect x="83.5" y="513" width="1.5" height="10" fill="#c9a6d9" opacity=".4"/><rect x="311" y="513" width="1.5" height="10" fill="#9a86d8" opacity=".4"/>
<defs><clipPath id="cp2"><rect x="998" y="144.8" width="154" height="132"/></clipPath><filter id="bl2" x="-5%" y="-5%" width="110%" height="110%"><feGaussianBlur stdDeviation="2.2"/></filter><radialGradient id="gh2" cx="0.5" cy="0.5" r="0.5"><stop offset="0" stop-color="#cfcfca"/><stop offset="0.55" stop-color="#c6c6c0"/><stop offset="0.62" stop-color="#dcdcd6"/><stop offset="0.82" stop-color="#c2c2bc"/><stop offset="1" stop-color="#a8a8a2"/></radialGradient><linearGradient id="gt2" x1="0" y1="0" x2="0" y2="1"><stop offset="0" stop-color="#cdcdc6"/><stop offset="1" stop-color="#e2e2dc"/></linearGradient></defs>
<g clip-path="url(#cp2)"><g transform="translate(990,138) scale(0.24248)"><g filter="url(#bl2)">
<rect x="0" y="0" width="701" height="602" fill="#c9c2a2"/>
<rect x="560" y="0" width="141" height="60" fill="#a8a688"/>
<rect x="540" y="60" width="80" height="250" fill="#4a3a38"/>
<polygon points="35,107 92,31 232,31 232,60 150,111 178,111 178,306 35,345" fill="#7a3a3c"/>
<polygon points="35,107 148,111 148,165 35,165" fill="#8a4244"/>
<polygon points="20,165 60,165 60,345 20,350" fill="#6a3032"/>
<polygon points="557,31 690,31 690,62 557,62" fill="#7a3a3c"/>
<polygon points="598,90 690,90 690,300 598,298" fill="#804042"/>
<polygon points="110,68 232,60 232,82 105,92" fill="#d8d6d0"/>
<polygon points="95,92 232,86 232,108 100,112" fill="#b8b6b0"/>
<polygon points="545,58 640,58 640,90 545,90" fill="#d0cec8"/>
<ellipse cx="160" cy="135" rx="20" ry="26" fill="#8a4a4c"/><ellipse cx="588" cy="122" rx="18" ry="24" fill="#8a4a4c"/>
<circle cx="372" cy="180" r="192" fill="url(#gh2)"/>
<circle cx="372" cy="180" r="96" fill="none" stroke="#dcdcd6" stroke-width="5"/>
<circle cx="544" cy="180" r="4" fill="#3a3a36"/>
<circle cx="536" cy="233" r="4" fill="#3a3a36"/>
<circle cx="511" cy="281" r="4" fill="#3a3a36"/>
<circle cx="473" cy="319" r="4" fill="#3a3a36"/>
<circle cx="425" cy="344" r="4" fill="#3a3a36"/>
<circle cx="372" cy="352" r="4" fill="#3a3a36"/>
<circle cx="319" cy="344" r="4" fill="#3a3a36"/>
<circle cx="271" cy="319" r="4" fill="#3a3a36"/>
<circle cx="233" cy="281" r="4" fill="#3a3a36"/>
<circle cx="208" cy="233" r="4" fill="#3a3a36"/>
<circle cx="200" cy="180" r="4" fill="#3a3a36"/>
<circle cx="208" cy="127" r="4" fill="#3a3a36"/>
<circle cx="233" cy="79" r="4" fill="#3a3a36"/>
<circle cx="271" cy="41" r="4" fill="#3a3a36"/>
<circle cx="319" cy="16" r="4" fill="#3a3a36"/>
<circle cx="372" cy="8" r="4" fill="#3a3a36"/>
<circle cx="425" cy="16" r="4" fill="#3a3a36"/>
<circle cx="473" cy="41" r="4" fill="#3a3a36"/>
<circle cx="511" cy="79" r="4" fill="#3a3a36"/>
<circle cx="536" cy="127" r="4" fill="#3a3a36"/>
<rect x="300" y="92" width="42" height="18" fill="#a4a49c"/>
<ellipse cx="392" cy="140" rx="22" ry="12" fill="#8a6a2a"/>
<polygon points="95,302 690,290 690,602 20,602 20,400" fill="url(#gt2)"/>
<polygon points="20,297 58,297 58,400 20,420" fill="#d4d4cc"/>
<ellipse cx="400" cy="545" rx="170" ry="55" fill="#f0f0ec"/>
<polygon points="95,305 690,288 690,298 95,317" fill="#e0e0dc"/>
<circle cx="130" cy="330" r="3.6" fill="#4a4a44"/>
<circle cx="564" cy="330" r="3.6" fill="#4a4a44"/>
<circle cx="626" cy="330" r="3.6" fill="#4a4a44"/>
<circle cx="688" cy="330" r="3.6" fill="#4a4a44"/>
<circle cx="556" cy="364" r="3.6" fill="#4a4a44"/>
<circle cx="618" cy="364" r="3.6" fill="#4a4a44"/>
<circle cx="680" cy="364" r="3.6" fill="#4a4a44"/>
<circle cx="114" cy="398" r="3.6" fill="#4a4a44"/>
<circle cx="548" cy="398" r="3.6" fill="#4a4a44"/>
<circle cx="610" cy="398" r="3.6" fill="#4a4a44"/>
<circle cx="672" cy="398" r="3.6" fill="#4a4a44"/>
<circle cx="168" cy="432" r="3.6" fill="#4a4a44"/>
<circle cx="540" cy="432" r="3.6" fill="#4a4a44"/>
<circle cx="602" cy="432" r="3.6" fill="#4a4a44"/>
<circle cx="664" cy="432" r="3.6" fill="#4a4a44"/>
<circle cx="98" cy="466" r="3.6" fill="#4a4a44"/>
<circle cx="532" cy="466" r="3.6" fill="#4a4a44"/>
<circle cx="594" cy="466" r="3.6" fill="#4a4a44"/>
<circle cx="656" cy="466" r="3.6" fill="#4a4a44"/>
<circle cx="152" cy="500" r="3.6" fill="#4a4a44"/>
<circle cx="586" cy="500" r="3.6" fill="#4a4a44"/>
<circle cx="648" cy="500" r="3.6" fill="#4a4a44"/>
<circle cx="82" cy="534" r="3.6" fill="#4a4a44"/>
<circle cx="578" cy="534" r="3.6" fill="#4a4a44"/>
<circle cx="640" cy="534" r="3.6" fill="#4a4a44"/>
<circle cx="136" cy="568" r="3.6" fill="#4a4a44"/>
<circle cx="570" cy="568" r="3.6" fill="#4a4a44"/>
<circle cx="632" cy="568" r="3.6" fill="#4a4a44"/>
<polygon points="38,170 130,160 135,275 45,285" fill="#a4a49c"/>
<polygon points="50,185 120,178 123,262 55,270" fill="#8c8c86"/>
<circle cx="62" cy="215" r="4" fill="#444"/><circle cx="64" cy="245" r="4" fill="#444"/>
<circle cx="78" cy="214" r="4" fill="#444"/><circle cx="80" cy="244" r="4" fill="#444"/>
<circle cx="94" cy="213" r="4" fill="#444"/><circle cx="96" cy="243" r="4" fill="#444"/>
<circle cx="110" cy="212" r="4" fill="#444"/><circle cx="112" cy="242" r="4" fill="#444"/>
<circle cx="78" cy="232" r="5" fill="#d8b830"/>
<polygon points="218,207 340,163 503,187 397,243" fill="#2a2a2e"/>
<polygon points="218,207 397,243 392,548 300,522 238,470" fill="#101012"/>
<polygon points="397,243 503,187 512,478 392,548" fill="#161618"/>
<path d="M280,185 L450,215 M340,163 L397,243 M397,340 L508,290 M397,440 L510,385 M455,213 L460,510" stroke="#34343a" stroke-width="4" fill="none"/>
<polygon points="213,225 262,238 262,305 215,290" fill="#c4ac68"/>
<polygon points="268,262 345,250 350,330 280,335" fill="#d4d0bc"/>
<polygon points="318,270 345,262 348,345 322,350" fill="#c8b070"/>
<polygon points="238,338 282,348 282,405 240,395" fill="#c0a860"/>
<polygon points="280,380 350,368 352,440 290,448" fill="#d0ccb8"/>
<polygon points="322,385 350,378 352,452 326,456" fill="#c8b070"/>
<polygon points="250,448 292,458 292,505 252,495" fill="#bca458"/>
<path d="M290,300 C230,330 170,360 120,420 C80,470 50,510 20,540" stroke="#b4bcc4" stroke-width="12" fill="none"/>
<path d="M270,320 C220,340 180,350 150,380 C100,430 60,470 20,490" stroke="#a8b4bc" stroke-width="10" fill="none"/>
<path d="M300,420 C250,430 200,445 150,470 C100,500 60,540 30,590" stroke="#b8c0c8" stroke-width="11" fill="none"/>
<path d="M280,470 C250,490 220,510 200,560" stroke="#b0b8c0" stroke-width="10" fill="none"/>
<path d="M60,455 L200,445" stroke="#a85050" stroke-width="5" fill="none" opacity="0.6"/>
<polygon points="170,345 215,330 225,355 180,372" fill="#9cc8b4"/>
<path d="M225,330 L265,315" stroke="#e4c020" stroke-width="13" fill="none"/>
<path d="M178,458 L222,440" stroke="#e4c020" stroke-width="13" fill="none"/>
<path d="M205,515 L200,550" stroke="#e4c020" stroke-width="15" fill="none"/>
<path d="M225,435 L270,420" stroke="#e8e8e8" stroke-width="13" fill="none"/>
</g></g></g>
<rect x="981.7" y="362.9" width="184.5999999999999" height="157.5" fill="#fff" stroke="#000" stroke-width="1.5"/>
<path d="M981.7,390.3h3.4M981.7,383.4h3.4M981.7,378.5h3.4M981.7,374.7h3.4M981.7,371.6h3.4M981.7,369.0h3.4M981.7,366.7h3.4M981.7,364.7h3.4M981.7,429.5h3.4M981.7,422.6h3.4M981.7,417.7h3.4M981.7,413.9h3.4M981.7,410.8h3.4M981.7,408.2h3.4M981.7,405.9h3.4M981.7,403.9h3.4M981.7,402.1h6.8M981.7,468.7h3.4M981.7,461.8h3.4M981.7,456.9h3.4M981.7,453.1h3.4M981.7,450.0h3.4M981.7,447.4h3.4M981.7,445.1h3.4M981.7,443.1h3.4M981.7,441.3h6.8M981.7,507.9h3.4M981.7,501.0h3.4M981.7,496.1h3.4M981.7,492.3h3.4M981.7,489.2h3.4M981.7,486.6h3.4M981.7,484.3h3.4M981.7,482.3h3.4M981.7,480.5h6.8M1166.3,512.5h-2.4M1166.3,504.6h-5.4M1166.3,496.8h-2.4M1166.3,488.9h-5.4M1166.3,481.0h-2.4M1166.3,473.1h-5.4M1166.3,465.3h-2.4M1166.3,457.4h-5.4M1166.3,449.5h-2.4M1166.3,441.6h-5.4M1166.3,433.8h-2.4M1166.3,425.9h-5.4M1166.3,418.0h-2.4M1166.3,410.1h-5.4M1166.3,402.3h-2.4M1166.3,394.4h-5.4M1166.3,386.5h-2.4M1166.3,378.6h-5.4M1166.3,370.8h-2.4M991.4,520.4v-2.6M1001.1,520.4v-2.6M1010.9,520.4v-2.6M1020.6,520.4v-5.3M1030.3,520.4v-2.6M1040.0,520.4v-2.6M1049.7,520.4v-2.6M1059.5,520.4v-2.6M1069.2,520.4v-7.4M1078.9,520.4v-2.6M1088.6,520.4v-2.6M1098.3,520.4v-2.6M1108.1,520.4v-2.6M1117.8,520.4v-5.3M1127.5,520.4v-2.6M1137.2,520.4v-2.6M1146.9,520.4v-2.6M1156.7,520.4v-2.6" stroke="#000" stroke-width="1.25" fill="none"/>
<polyline fill="none" stroke="#ff0000" stroke-width="1.3" stroke-linejoin="round" points="982.2,382.6 984.6,380.2 987.0,386.2 989.5,389.8 993.1,388.1 996.7,391.0 999.1,393.4 1002.0,401.8 1005.1,409.1 1008.7,411.5 1012.3,410.8 1015.9,413.9 1019.6,417.0 1022.7,418.9 1025.6,418.0 1029.2,416.3 1032.8,419.9 1037.6,424.2 1042.4,426.6 1047.3,428.3 1052.1,429.5 1056.9,429.1 1061.7,430.0 1066.5,431.5 1071.3,432.7 1076.2,433.2 1077.2,433.2 1079.6,433.2 1084.5,436.3 1089.3,437.2 1094.1,438.7 1098.9,438.7 1103.7,439.7 1108.5,439.2 1118.2,440.4 1127.8,441.6 1137.4,444.0 1147.1,445.2 1154.3,443.5 1160.3,440.4 1165.6,437.5"/>
<polyline fill="none" stroke="#ff0000" stroke-width="1.3" stroke-linejoin="round" points="982.2,428.6 984.6,426.2 987.0,432.2 989.5,435.8 993.1,434.1 996.7,437.0 999.1,439.4 1002.0,447.8 1005.1,455.1 1008.7,457.5 1012.3,456.8 1015.9,459.9 1019.6,463.0 1022.7,464.9 1025.6,464.0 1029.2,462.3 1032.8,465.9 1037.6,470.2 1042.4,472.6 1047.3,474.3 1052.1,475.5 1056.9,475.1 1061.7,476.0 1066.5,477.5 1071.3,478.7 1076.2,479.2 1077.2,479.2 1079.6,479.2 1084.5,482.3 1089.3,483.2 1094.1,484.7 1098.9,484.7 1103.7,485.7 1108.5,485.2 1118.2,486.4 1127.8,487.6 1137.4,490.0 1147.1,491.2 1154.3,489.5 1160.3,486.4 1165.6,483.5"/>
<polyline fill="none" stroke="#ff9a1a" stroke-width="1.2" stroke-dasharray="1.6 1.2" points="982.2,394.0 984.6,391.6 987.0,397.6 989.5,401.2 993.1,399.5 996.7,402.4 999.1,404.8 1002.0,413.2 1005.1,420.5 1008.7,422.9 1012.3,422.2 1015.9,425.3 1019.6,428.4 1022.7,430.3 1025.6,429.4 1029.2,427.7 1032.8,431.3 1037.6,435.6 1042.4,438.0 1047.3,439.7 1052.1,440.9 1056.9,440.5 1061.7,441.4 1066.5,442.9 1071.3,444.1 1076.2,444.6 1077.2,444.6 1079.6,444.6 1084.5,447.7 1089.3,448.6 1094.1,450.1 1098.9,450.1 1103.7,451.1 1108.5,450.6 1118.2,451.8 1127.8,453.0 1137.4,455.4 1147.1,456.6 1154.3,454.9 1160.3,451.8 1165.6,448.9"/>
<polyline fill="none" stroke="#ff9a1a" stroke-width="1.2" stroke-dasharray="1.6 1.2" points="982.2,416.0 984.6,413.6 987.0,419.6 989.5,423.2 993.1,421.5 996.7,424.4 999.1,426.8 1002.0,435.2 1005.1,442.5 1008.7,444.9 1012.3,444.2 1015.9,447.3 1019.6,450.4 1022.7,452.3 1025.6,451.4 1029.2,449.7 1032.8,453.3 1037.6,457.6 1042.4,460.0 1047.3,461.7 1052.1,462.9 1056.9,462.5 1061.7,463.4 1066.5,464.9 1071.3,466.1 1076.2,466.6 1077.2,466.6 1079.6,466.6 1084.5,469.7 1089.3,470.6 1094.1,472.1 1098.9,472.1 1103.7,473.1 1108.5,472.6 1118.2,473.8 1127.8,475.0 1137.4,477.4 1147.1,478.6 1154.3,476.9 1160.3,473.8 1165.6,470.9"/>
<polyline fill="none" stroke="#00dd00" stroke-width="1.4" stroke-linejoin="round" points="982.2,404.4 984.6,402.0 987.0,408.0 989.5,411.6 993.1,409.9 996.7,412.8 999.1,415.2 1002.0,423.6 1005.1,430.9 1008.7,433.3 1012.3,432.6 1015.9,435.7 1019.6,438.8 1022.7,440.7 1025.6,439.8 1029.2,438.1 1032.8,441.7 1037.6,446.0 1042.4,448.4 1047.3,450.1 1052.1,451.3 1056.9,450.9 1061.7,451.8 1066.5,453.3 1071.3,454.5 1076.2,455.0 1077.2,455.0 1079.6,455.0 1084.5,458.1 1089.3,459.0 1094.1,460.5 1098.9,460.5 1103.7,461.5 1108.5,461.0 1118.2,462.2 1127.8,463.4 1137.4,465.8 1147.1,467.0 1154.3,465.3 1160.3,462.2 1165.6,459.3"/>
<polyline fill="none" stroke="#ff0000" stroke-width="1.1" stroke-linejoin="round" points="982.2,405.7 983.4,402.0 984.6,401.2 985.8,406.0 987.0,409.0 988.2,409.3 989.5,412.5 991.3,411.8 993.1,409.5 994.9,411.9 996.7,413.3 997.9,418.5 999.1,415.8 1000.5,422.9 1002.0,424.2 1003.5,426.8 1005.1,431.9 1006.9,436.6 1008.7,434.6 1010.5,437.4 1012.3,433.8 1014.1,438.6 1015.9,435.3 1017.8,436.0 1019.6,439.9 1021.1,440.8 1022.7,440.9 1024.1,441.3 1025.6,441.0 1027.4,442.4 1029.2,439.2 1031.0,444.4 1032.8,441.1 1035.2,444.4 1037.6,445.6 1040.0,446.0 1042.4,447.9 1044.8,449.8 1047.3,449.5 1049.7,455.2 1052.1,451.2 1054.5,455.6 1056.9,451.5 1059.3,451.8 1061.7,453.2 1064.1,456.0 1066.5,454.2 1068.9,453.4 1071.3,454.7 1073.7,455.7 1076.2,455.8 1076.7,456.0 1077.2,454.8 1078.4,458.5 1079.6,454.3 1082.0,460.0 1084.5,458.8 1086.9,462.1 1089.3,459.6 1091.7,460.3 1094.1,460.7 1096.5,464.0 1098.9,460.7 1101.3,462.0 1103.7,462.0 1106.1,464.7 1108.5,462.1 1113.4,465.1 1118.2,462.0 1123.0,462.3 1127.8,464.6 1132.6,464.1 1137.4,465.9 1142.3,465.9 1147.1,466.5 1150.7,467.2 1154.3,466.3 1157.3,464.2 1160.3,463.3 1163.0,465.2 1165.6,458.9"/>
<rect x="1095.3" y="366.3" width="54.90000000000009" height="38.099999999999966" fill="#fff" stroke="#15156e" stroke-width="1.1"/>
<rect x="1097.7" y="368.9" width="1.8" height="2.6" fill="#111"/>
<rect x="1102.1" y="369.2" width="1.4" height="2" fill="#555" opacity=".5"/>
<line x1="1106.3" y1="371.3" x2="1117.8" y2="371.3" stroke="#00dd00" stroke-width="1.3"/>
<rect x="1120.3" y="368.8" width="3.5" height="2.8" fill="#223" opacity=".8"/>
<rect x="1124.3" y="369.09999999999997" width="19" height="2.2" fill="#335" opacity=".55"/>
<rect x="1097.7" y="374.54999999999995" width="1.8" height="2.6" fill="#111"/>
<rect x="1102.1" y="374.84999999999997" width="1.4" height="2" fill="#555" opacity=".5"/>
<line x1="1106.3" y1="376.95" x2="1117.8" y2="376.95" stroke="#ff0000" stroke-width="1.3"/>
<rect x="1120.3" y="374.45" width="3.5" height="2.8" fill="#223" opacity=".8"/>
<rect x="1124.3" y="374.74999999999994" width="16" height="2.2" fill="#335" opacity=".55"/>
<rect x="1097.7" y="380.2" width="1.8" height="2.6" fill="#111"/>
<rect x="1102.1" y="380.5" width="1.4" height="2" fill="#555" opacity=".5"/>
<line x1="1106.3" y1="382.6" x2="1117.8" y2="382.6" stroke="#ff9a1a" stroke-width="1.3" stroke-dasharray="1.4 1"/>
<rect x="1120.3" y="380.1" width="3.5" height="2.8" fill="#223" opacity=".8"/>
<rect x="1124.3" y="380.4" width="18" height="2.2" fill="#335" opacity=".55"/>
<rect x="1097.7" y="385.84999999999997" width="1.8" height="2.6" fill="#111"/>
<rect x="1102.1" y="386.15" width="1.4" height="2" fill="#555" opacity=".5"/>
<line x1="1106.3" y1="388.25" x2="1117.8" y2="388.25" stroke="#ff0000" stroke-width="1.3"/>
<rect x="1120.3" y="385.75" width="3.5" height="2.8" fill="#223" opacity=".8"/>
<rect x="1124.3" y="386.04999999999995" width="14" height="2.2" fill="#335" opacity=".55"/>
<rect x="1097.7" y="391.5" width="1.8" height="2.6" fill="#111"/>
<rect x="1102.1" y="391.8" width="1.4" height="2" fill="#555" opacity=".5"/>
<line x1="1106.3" y1="393.90000000000003" x2="1117.8" y2="393.90000000000003" stroke="#ff9a1a" stroke-width="1.3" stroke-dasharray="1.4 1"/>
<rect x="1120.3" y="391.40000000000003" width="3.5" height="2.8" fill="#223" opacity=".8"/>
<rect x="1124.3" y="391.7" width="15" height="2.2" fill="#335" opacity=".55"/>
<rect x="1097.7" y="397.15" width="1.8" height="2.6" fill="#111"/>
<rect x="1102.1" y="397.45" width="1.4" height="2" fill="#555" opacity=".5"/>
<line x1="1106.3" y1="399.55" x2="1117.8" y2="399.55" stroke="#ff0000" stroke-width="1.3"/>
<rect x="1120.3" y="397.05" width="3.5" height="2.8" fill="#223" opacity=".8"/>
<rect x="1124.3" y="397.34999999999997" width="13" height="2.2" fill="#335" opacity=".55"/>
<rect x="971.5" y="364" width="7" height="1.1" fill="#8fa0b8" opacity="0.38"/>
<rect x="971.5" y="518.5" width="7" height="1.1" fill="#8fa0b8" opacity="0.38"/>
<rect x="982" y="523.2" width="8" height="1.1" fill="#8fa0b8" opacity="0.38"/>
<rect x="1071" y="523.2" width="4" height="1.1" fill="#8fa0b8" opacity="0.38"/>
<rect x="1153" y="523.2" width="12" height="1.1" fill="#8fa0b8" opacity="0.38"/>
<rect x="1167.5" y="364" width="5" height="1.1" fill="#8fa0b8" opacity="0.38"/>
<rect x="1168.5" y="516.5" width="6" height="1.1" fill="#8fa0b8" opacity="0.38"/>
<rect x="972.5" y="432" width="1.6" height="12" fill="#7a7fc8" opacity=".5"/><rect x="975.3" y="438" width="1.4" height="7" fill="#8899aa" opacity=".5"/><rect x="1170.5" y="431" width="1.6" height="20" fill="#7a7fc8" opacity=".5"/>
<text class="t" x="253.12" y="74.40" font-size="21.1" font-weight="normal" textLength="55.77" lengthAdjust="spacingAndGlyphs">Step1</text>
<text class="t" x="210.62" y="100.80" font-size="21.1" font-weight="normal" textLength="143.07" lengthAdjust="spacingAndGlyphs">Define mission</text>
<text class="t" x="160.12" y="192.60" font-size="21.1" font-weight="normal" textLength="63.47" lengthAdjust="spacingAndGlyphs">Step 2</text>
<text class="t" x="113.92" y="218.20" font-size="21.1" font-weight="normal" textLength="155.37" lengthAdjust="spacingAndGlyphs">Data acquisition</text>
<text class="t" x="475.62" y="60.90" font-size="21.1" font-weight="normal" textLength="63.07" lengthAdjust="spacingAndGlyphs">Step 3</text>
<text class="t" x="410.82" y="99.80" font-size="21.1" font-weight="normal" textLength="191.57" lengthAdjust="spacingAndGlyphs">Analysis of damage</text>
<text class="t" x="431.82" y="125.70" font-size="21.1" font-weight="normal" textLength="150.07" lengthAdjust="spacingAndGlyphs">potential&#160;&#160;of&#160;the</text>
<text class="t" x="440.82" y="153.10" font-size="21.1" font-weight="normal" textLength="131.77" lengthAdjust="spacingAndGlyphs">environments</text>
<text class="t" x="758.92" y="62.60" font-size="21.1" font-weight="normal" textLength="63.27" lengthAdjust="spacingAndGlyphs">Step 4</text>
<text class="t" x="723.92" y="100.90" font-size="21.1" font-weight="normal" textLength="134.37" lengthAdjust="spacingAndGlyphs">Calculation of</text>
<text class="t" x="715.32" y="127.20" font-size="21.1" font-weight="normal" textLength="150.07" lengthAdjust="spacingAndGlyphs">overall damage</text>
<text class="t" x="1046.52" y="55.30" font-size="21.1" font-weight="normal" textLength="64.57" lengthAdjust="spacingAndGlyphs">Step 5</text>
<text class="t" x="1025.62" y="94.30" font-size="21.1" font-weight="normal" textLength="106.37" lengthAdjust="spacingAndGlyphs">Test profile</text>
<text class="t" x="1032.52" y="119.60" font-size="21.1" font-weight="normal" textLength="91.87" lengthAdjust="spacingAndGlyphs">synthesis</text>
<text class="c" x="115.36" y="586.90" font-size="17.1" font-weight="normal" textLength="59.96" lengthAdjust="spacingAndGlyphs">Loading</text>
<text class="c" x="178.86" y="586.90" font-size="17.1" font-weight="normal" textLength="105.76" lengthAdjust="spacingAndGlyphs">environments</text>
<text class="c" x="1066.36" y="547.20" font-size="17.1" font-weight="normal" textLength="30.56" lengthAdjust="spacingAndGlyphs">PSD</text>
</svg></body></html>
